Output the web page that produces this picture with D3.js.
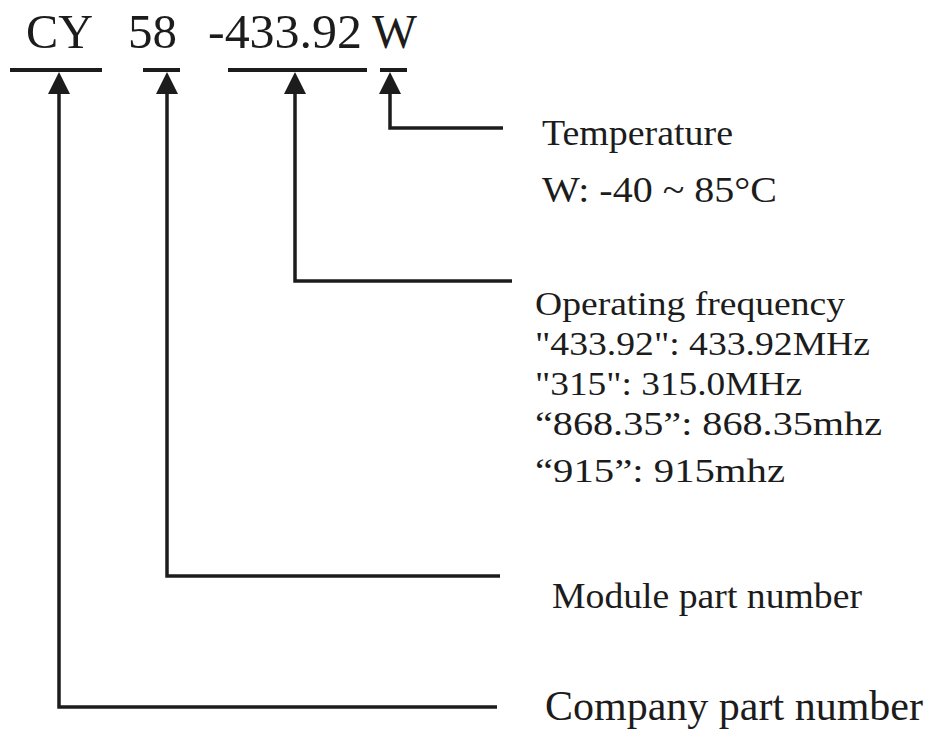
<!DOCTYPE html>
<html>
<head>
<meta charset="utf-8">
<script src="https://cdn.jsdelivr.net/npm/d3@7"></script>
<style>
  html, body { margin: 0; padding: 0; background: #fff; }
  svg text { font-family: "Times New Roman", Times, "Liberation Serif", serif; fill: #1c1c1c; }
</style>
</head>
<body>
<svg id="chart" width="931" height="731"></svg>
<script>
// part number pieces, left to right
const parts = ["CY", "58", "-433.92", "W"];
// what each piece means (one block of lines per piece)
const descriptions = [
  ["Company part number"],
  ["Module part number"],
  ["Operating frequency", "\"433.92\": 433.92MHz", "\"315\": 315.0MHz", "\u201c868.35\u201d: 868.35mhz", "\u201c915\u201d: 915mhz"],
  ["Temperature", "W: -40 ~ 85\u00b0C"]
];

// layout, kept apart from the data
const layout = [
  {tx: 26,  tw: 67,  bar: [10, 102],  stem: 59,  elbow: 707, end: 497,
   lx: 545, ly: [720], lw: [378], fs: 42},
  {tx: 128, tw: 49,  bar: [143, 180], stem: 167, elbow: 576, end: 500,
   lx: 552, ly: [608], lw: [310], fs: 35},
  {tx: 208, tw: 154, bar: [228, 367], stem: 295, elbow: 281, end: 512,
   lx: 535, ly: [315, 355, 395, 435, 482], lw: [310, 335, 267, 347, 250], fs: 33},
  {tx: 372, tw: 45,  bar: [380, 407], stem: 390, elbow: 128, end: 503,
   lx: 542, ly: [145, 202], lw: [191, 235], fs: 35}
];

const svg = d3.select("#chart");
const barY = 70, arrowTip = 72, arrowBase = 94, arrowHalf = 11;
const ink = "#1c1c1c";

const groups = svg.selectAll("g.part")
  .data(parts.map((p, i) => ({name: p, lines: descriptions[i], ...layout[i]})))
  .enter().append("g")
  .attr("class", "part");

// part text along the top
groups.append("text")
  .attr("x", d => d.tx)
  .attr("y", 48)
  .attr("font-size", 48)
  .attr("textLength", d => d.tw)
  .attr("lengthAdjust", "spacingAndGlyphs")
  .text(d => d.name);

// underline bar
groups.append("line")
  .attr("x1", d => d.bar[0]).attr("x2", d => d.bar[1])
  .attr("y1", barY).attr("y2", barY)
  .attr("stroke", ink).attr("stroke-width", 4);

// arrow head pointing up to the bar
groups.append("path")
  .attr("d", d => `M${d.stem},${arrowTip} L${d.stem - arrowHalf},${arrowBase} L${d.stem + arrowHalf},${arrowBase} Z`)
  .attr("fill", ink);

// leader: down from the arrow, then right to the label
groups.append("path")
  .attr("d", d => d3.line()([[d.stem, arrowBase - 2], [d.stem, d.elbow], [d.end, d.elbow]]))
  .attr("fill", "none")
  .attr("stroke", ink)
  .attr("stroke-width", 3.5);

// description lines
groups.each(function(d) {
  d3.select(this).selectAll("text.desc")
    .data(d.lines)
    .enter().append("text")
    .attr("class", "desc")
    .attr("x", d.lx)
    .attr("y", (t, j) => d.ly[j])
    .attr("font-size", d.fs)
    .attr("textLength", (t, j) => d.lw[j])
    .attr("lengthAdjust", "spacingAndGlyphs")
    .text(t => t);
});
</script>
</body>
</html>
